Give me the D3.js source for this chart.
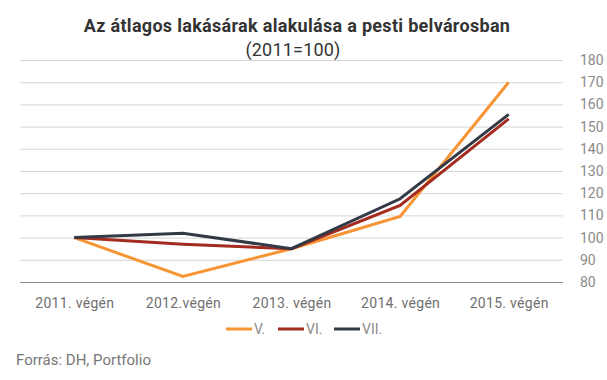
<!DOCTYPE html>
<html><head><meta charset="utf-8">
<script src="https://cdn.jsdelivr.net/npm/d3@7"></script>
<style>body{margin:0;background:#fff;}svg{display:block;font-family:Roboto,sans-serif;}</style>
</head><body>
<svg id="c" width="607" height="380"></svg>
<script>
const categories = ["2011. végén","2012.végén","2013. végén","2014. végén","2015. végén"];
const seriesNames = ["V.","VI.","VII."];
const seriesV = [100, 82.5, 95, 109.5, 170];
const seriesVI = [100, 97, 95, 114.5, 153.5];
const seriesVII = [100, 102, 95, 117.5, 155.5];
const yTicks = [80,90,100,110,120,130,140,150,160,170,180];
const colors = ["#F79433","#A32B1F","#333A46"];

(function(){
const svg = d3.select("#c");
const mL = 20, mR = 563, mT = 60, mB = 282;
const x = d3.scalePoint().domain(categories).range([mL, mR]).padding(0.5);
const y = d3.scaleLinear().domain([80,180]).range([mB, mT]);

svg.append("g").selectAll("line").data(yTicks).join("line")
  .attr("x1", mL).attr("x2", mR)
  .attr("y1", d=>y(d)+0.5).attr("y2", d=>y(d)+0.5)
  .attr("stroke", d=>d===80?"#8a8a8a":"#d6d6d6").attr("stroke-width",1);

const ya = svg.append("g").attr("transform",`translate(${mR},0)`)
  .call(d3.axisRight(y).tickValues(yTicks).tickSize(0).tickPadding(17));
ya.select(".domain").remove();
ya.selectAll("text").attr("font-size",14).attr("fill","#8a8a8a").attr("font-family","Roboto,sans-serif");

const xa = svg.append("g").attr("transform",`translate(0,${mB})`)
  .call(d3.axisBottom(x).tickSize(0).tickPadding(16));
xa.select(".domain").remove();
xa.selectAll("text").attr("font-size",14).attr("fill","#6f6f6f").attr("letter-spacing",0.3).attr("font-family","Roboto,sans-serif");

const data = [seriesV, seriesVI, seriesVII];
const line = d3.line().x((d,i)=>x(categories[i])).y(d=>y(d));
svg.append("g").selectAll("path").data(data).join("path")
  .attr("d", line).attr("fill","none")
  .attr("stroke",(d,i)=>colors[i]).attr("stroke-width",3).attr("stroke-linejoin","miter");

svg.append("text").attr("x",297).attr("y",32).attr("text-anchor","middle")
  .attr("font-size",18).attr("font-weight","bold").attr("fill","#333").attr("letter-spacing",0.3)
  .text("Az átlagos lakásárak alakulása a pesti belvárosban");
svg.append("text").attr("x",293).attr("y",56).attr("text-anchor","middle")
  .attr("font-size",18).attr("fill","#333").attr("letter-spacing",0.2)
  .text("(2011=100)");

const legX = [226, 278, 334];
const lg = svg.append("g").selectAll("g").data(seriesNames).join("g")
  .attr("transform",(d,i)=>`translate(${legX[i]},329)`);
lg.append("line").attr("x1",0).attr("x2",26).attr("y1",0).attr("y2",0)
  .attr("stroke",(d,i)=>colors[i]).attr("stroke-width",3);
lg.append("text").attr("x",28).attr("y",5).attr("font-size",14).attr("fill","#8a8a8a").text(d=>d);

svg.append("text").attr("x",16).attr("y",365).attr("font-size",15).attr("fill","#777")
  .text("Forrás: DH, Portfolio");
})();
</script>
</body></html>
